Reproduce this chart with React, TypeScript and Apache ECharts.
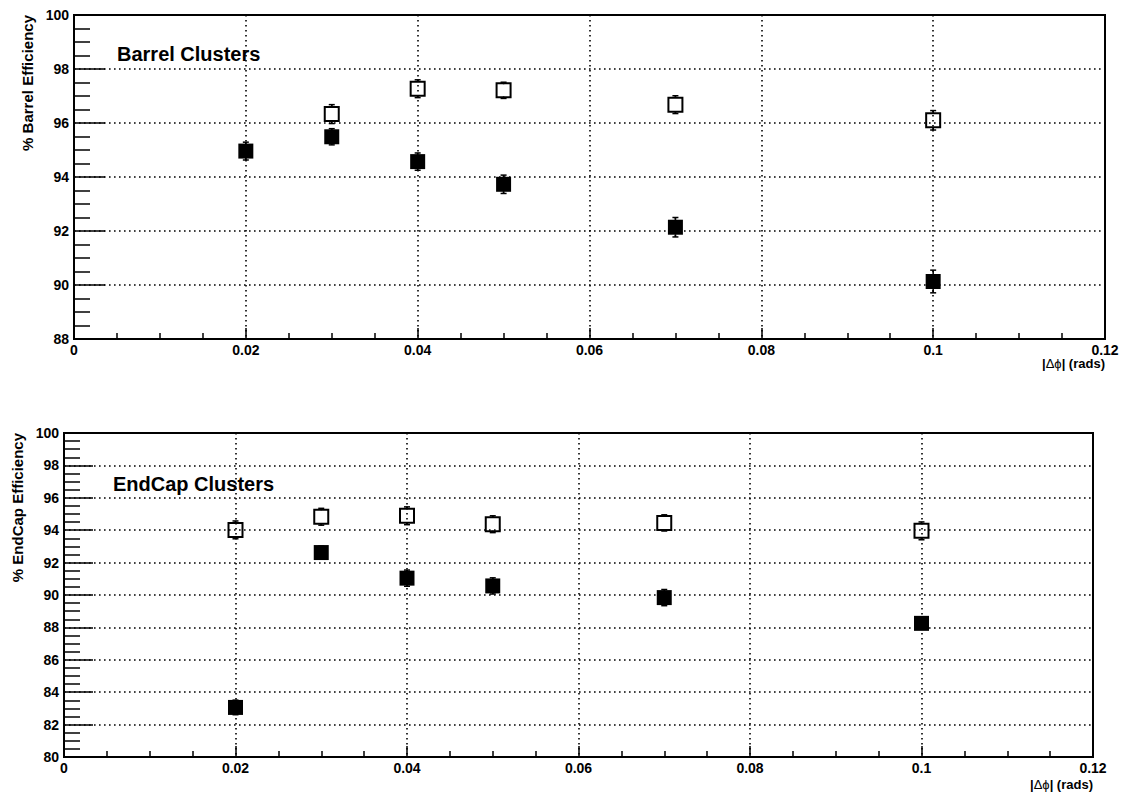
import React, { useEffect, useRef } from "react";
import * as echarts from "echarts";

const xVals = [0.02, 0.03, 0.04, 0.05, 0.07, 0.1];

const barrelOpen = [null, 96.33, 97.27, 97.21, 96.68, 96.1];
const barrelOpenErr = [0, 0.35, 0.33, 0.3, 0.33, 0.36];
const barrelFilled = [94.96, 95.49, 94.57, 93.73, 92.14, 90.13];
const barrelFilledErr = [0.33, 0.3, 0.32, 0.34, 0.36, 0.42];

const endcapOpen = [94.02, 94.83, 94.89, 94.37, 94.45, 93.96];
const endcapOpenErr = [0.55, 0.52, 0.55, 0.52, 0.5, 0.55];
const endcapFilled = [83.06, 92.62, 91.04, 90.56, 89.84, 88.25];
const endcapFilledErr = [0.45, 0.4, 0.5, 0.5, 0.5, 0.3];

const xTicks = ["0", "0.02", "0.04", "0.06", "0.08", "0.1", "0.12"];
const titles = ["Barrel Clusters", "EndCap Clusters"];
const yNames = ["% Barrel Efficiency", "% EndCap Efficiency"];

const FONT = "'Liberation Sans', Arial, Helvetica, sans-serif";

function pts(vals: (number | null)[], errs: number[]) {
  const out: number[][] = [];
  vals.forEach((v, i) => {
    if (v !== null) out.push([xVals[i], v, errs[i]]);
  });
  return out;
}

function errSeries(data: number[][], idx: number, half: number) {
  return {
    type: "custom",
    xAxisIndex: idx,
    yAxisIndex: idx,
    z: 2,
    encode: { x: 0, y: 1 },
    data,
    renderItem: (params: any, api: any) => {
      const x = api.value(0);
      const y = api.value(1);
      const e = api.value(2);
      const c = api.coord([x, y]);
      const t = api.coord([x, y + e]);
      const b = api.coord([x, y - e]);
      const st = { stroke: "#000", lineWidth: 1.5 };
      const cap = 3;
      const ch: any[] = [];
      if (c[1] - t[1] > half) {
        ch.push({ type: "line", shape: { x1: c[0], y1: c[1] - half, x2: c[0], y2: t[1] }, style: st });
        ch.push({ type: "line", shape: { x1: c[0], y1: b[1], x2: c[0], y2: c[1] + half }, style: st });
      }
      ch.push({ type: "line", shape: { x1: c[0] - cap, y1: t[1], x2: c[0] + cap, y2: t[1] }, style: st });
      ch.push({ type: "line", shape: { x1: c[0] - cap, y1: b[1], x2: c[0] + cap, y2: b[1] }, style: st });
      ch.push({ type: "line", shape: { x1: c[0], y1: t[1], x2: c[0], y2: t[1] + 2 }, style: st });
      ch.push({ type: "line", shape: { x1: c[0], y1: b[1], x2: c[0], y2: b[1] - 2 }, style: st });
      return { type: "group", children: ch };
    },
  };
}

function xAxis(idx: number) {
  return {
    type: "value",
    gridIndex: idx,
    min: 0,
    max: 0.12,
    interval: 0.02,
    axisLine: { show: true, onZero: false, lineStyle: { color: "#000", width: 2 } },
    axisTick: { show: true, inside: true, length: 11, lineStyle: { color: "#000", width: 1.5 } },
    minorTick: { show: true, splitNumber: 4, length: 6, lineStyle: { color: "#000", width: 1.5 } },
    splitLine: { show: true, lineStyle: { color: "#000", width: 1.6, type: [1.6, 3.4] } },
    axisLabel: {
      color: "#000",
      fontFamily: FONT,
      fontWeight: "bold",
      fontSize: 14,
      margin: 4,
      formatter: (v: number) => xTicks[Math.round(v / 0.02)],
    },
  };
}

function yAxis(idx: number, min: number, tickLen: number) {
  return {
    type: "value",
    gridIndex: idx,
    min,
    max: 100,
    interval: 2,
    axisLine: { show: true, onZero: false, lineStyle: { color: "#000", width: 2 } },
    axisTick: { show: true, inside: true, length: tickLen, lineStyle: { color: "#000", width: 1.5 } },
    minorTick: { show: true, splitNumber: 4, length: 16, lineStyle: { color: "#000", width: 1.5 } },
    splitLine: { show: true, lineStyle: { color: "#000", width: 1.6, type: [1.6, 3.4] } },
    axisLabel: {
      color: "#000",
      fontFamily: FONT,
      fontWeight: "bold",
      fontSize: 14,
      margin: 5,
    },
  };
}

function scatter(data: number[][], idx: number, filled: boolean) {
  return {
    type: "scatter",
    xAxisIndex: idx,
    yAxisIndex: idx,
    z: 3,
    symbol: "rect",
    symbolSize: filled ? 15 : 14,
    data: data.map((d) => [d[0], d[1]]),
    itemStyle: filled
      ? { color: "#000", opacity: 1 }
      : { color: "rgba(0,0,0,0)", borderColor: "#000", borderWidth: 2, opacity: 1 },
  };
}

function axisNameRich(x: number, y: number) {
  return {
    type: "text",
    x,
    y,
    style: {
      text: "{b||}{s|Δϕ}{b|| (rads)}",
      align: "right",
      verticalAlign: "middle",
      rich: {
        b: { fontFamily: FONT, fontWeight: "bold", fontSize: 13, fill: "#000" },
        s: { fontFamily: FONT, fontWeight: "normal", fontSize: 13, fill: "#000" },
      },
    },
  };
}

export default function App() {
  const ref = useRef<HTMLDivElement>(null);
  useEffect(() => {
    if (!ref.current) return;
    const chart = echarts.init(ref.current, undefined, { renderer: "svg" });
    const bO = pts(barrelOpen, barrelOpenErr);
    const bF = pts(barrelFilled, barrelFilledErr);
    const eO = pts(endcapOpen, endcapOpenErr);
    const eF = pts(endcapFilled, endcapFilledErr);
    chart.setOption({
      animation: false,
      backgroundColor: "#fff",
      grid: [
        { left: 74, top: 15, width: 1031, height: 324, show: true, borderColor: "#000", borderWidth: 2, backgroundColor: "transparent" },
        { left: 64, top: 433, width: 1029, height: 324, show: true, borderColor: "#000", borderWidth: 2, backgroundColor: "transparent" },
      ],
      xAxis: [xAxis(0), xAxis(1)],
      yAxis: [yAxis(0, 88, 31), yAxis(1, 80, 29)],
      series: [
        errSeries(bO, 0, 7),
        errSeries(bF, 0, 7),
        errSeries(eO, 1, 7),
        errSeries(eF, 1, 7),
        scatter(bO, 0, false),
        scatter(bF, 0, true),
        scatter(eO, 1, false),
        scatter(eF, 1, true),
      ],
      graphic: [
        {
          type: "text",
          x: 117,
          y: 54,
          style: { text: titles[0], fontFamily: FONT, fontWeight: "bold", fontSize: 20, fill: "#000", align: "left", verticalAlign: "middle" },
        },
        {
          type: "text",
          x: 113,
          y: 484,
          style: { text: titles[1], fontFamily: FONT, fontWeight: "bold", fontSize: 20, fill: "#000", align: "left", verticalAlign: "middle" },
        },
        {
          type: "text",
          x: 27,
          y: 15,
          rotation: Math.PI / 2,
          style: { text: yNames[0], fontFamily: FONT, fontWeight: "bold", fontSize: 15, fill: "#000", align: "right", verticalAlign: "middle" },
        },
        {
          type: "text",
          x: 17,
          y: 433,
          rotation: Math.PI / 2,
          style: { text: yNames[1], fontFamily: FONT, fontWeight: "bold", fontSize: 15, fill: "#000", align: "right", verticalAlign: "middle" },
        },
        axisNameRich(1105, 363),
        axisNameRich(1093, 784),
      ],
    });
    return () => chart.dispose();
  }, []);
  return (
    <div
      ref={ref}
      style={{ position: "fixed", left: 0, top: 0, width: 1127, height: 794, background: "#fff" }}
    />
  );
}
